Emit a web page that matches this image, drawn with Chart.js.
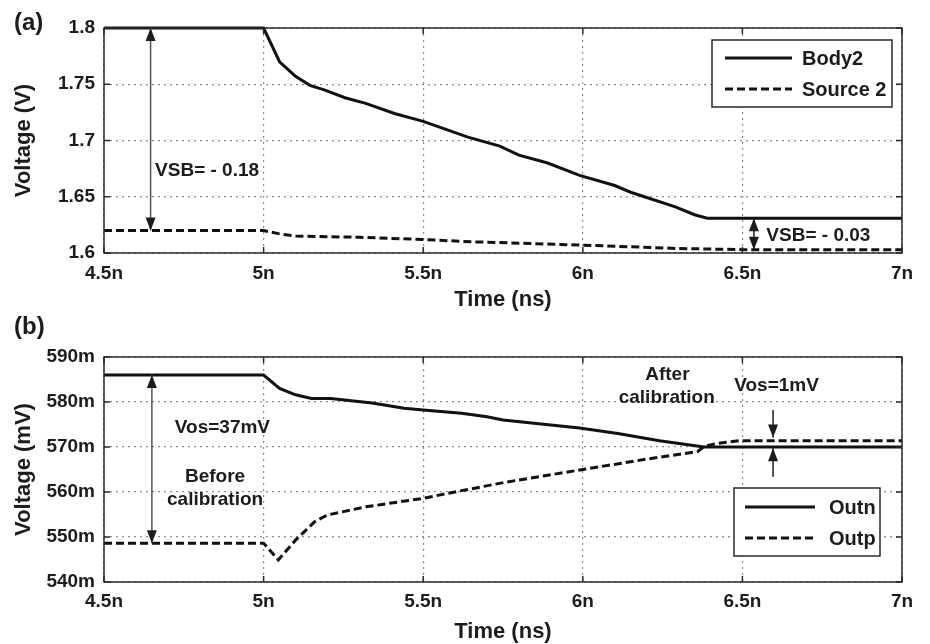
<!DOCTYPE html>
<html>
<head>
<meta charset="utf-8">
<script src="https://cdn.jsdelivr.net/npm/chart.js@4.4.1/dist/chart.umd.min.js"></script>
<style>
  html, body { margin: 0; padding: 0; background: #fff; overflow: hidden; }
  #wrap { position: relative; width: 930px; height: 644px; }
  canvas { position: absolute; left: 0; }
  #chartA { top: 0; }
  #chartB { top: 300px; }
</style>
</head>
<body>
<div id="wrap">
  <canvas id="chartA" width="930" height="320"></canvas>
  <canvas id="chartB" width="930" height="344"></canvas>
</div>
<script>
// (a) body / source voltage, time in ns, volts
const body2Time = [4.5, 5.0, 5.05, 5.1, 5.145, 5.19, 5.255, 5.32, 5.41, 5.5, 5.56, 5.64, 5.74, 5.8, 5.89, 5.99, 6.1, 6.15, 6.29, 6.35, 6.39, 7.0];
const body2Volt = [1.8, 1.8, 1.770, 1.757, 1.749, 1.745, 1.738, 1.733, 1.724, 1.717, 1.711, 1.703, 1.695, 1.687, 1.680, 1.669, 1.660, 1.654, 1.641, 1.634, 1.631, 1.631];
const source2Time = [4.5, 5.0, 5.05, 5.1, 5.3, 5.5, 5.65, 6.0, 6.3, 6.5, 7.0];
const source2Volt = [1.620, 1.620, 1.617, 1.615, 1.614, 1.612, 1.610, 1.607, 1.604, 1.603, 1.603];

// (b) comparator outputs, time in ns, mV
const outnTime = [4.5, 5.0, 5.05, 5.1, 5.15, 5.21, 5.34, 5.44, 5.5, 5.62, 5.7, 5.75, 5.9, 5.99, 6.11, 6.24, 6.38, 7.0];
const outnVolt = [586.0, 586.0, 583.0, 581.6, 580.8, 580.8, 579.8, 578.6, 578.2, 577.5, 576.7, 576.0, 574.9, 574.2, 573.0, 571.4, 570.0, 570.0];
const outpTime = [4.5, 5.0, 5.046, 5.1, 5.16, 5.2, 5.32, 5.5, 5.62, 5.76, 6.0, 6.2, 6.36, 6.38, 6.42, 6.49, 7.0];
const outpVolt = [548.6, 548.6, 544.9, 549.3, 553.4, 554.9, 556.7, 558.6, 560.3, 562.2, 565.0, 567.3, 569.0, 570.1, 570.8, 571.4, 571.4];

const timeTicks = [4.5, 5, 5.5, 6, 6.5, 7];
const voltTicksA = [1.6, 1.65, 1.7, 1.75, 1.8];
const voltTicksB = [540, 550, 560, 570, 580, 590];

const INK = '#1c1c1c';
const FAMILY = '"Liberation Sans", Arial, sans-serif';

function pts(xs, ys) {
  return xs.map((t, i) => ({ x: t, y: ys[i] }));
}

function arrowHead(ctx, x, y, dir) {
  ctx.beginPath();
  ctx.moveTo(x, y);
  ctx.lineTo(x - 5, y - dir * 13);
  ctx.lineTo(x + 5, y - dir * 13);
  ctx.closePath();
  ctx.fill();
}

const decor = {
  id: 'decor',
  afterDatasetsDraw(chart, args, opts) {
    const { ctx, chartArea: a, scales: { x, y } } = chart;
    ctx.save();
    ctx.setLineDash([]);

    // frame + inward ticks
    ctx.strokeStyle = '#2a2a2a';
    ctx.lineWidth = 1.5;
    ctx.strokeRect(a.left, a.top, a.right - a.left, a.bottom - a.top);
    ctx.beginPath();
    x.ticks.forEach((t) => {
      const px = x.getPixelForValue(t.value);
      ctx.moveTo(px, a.bottom); ctx.lineTo(px, a.bottom - 6);
      ctx.moveTo(px, a.top); ctx.lineTo(px, a.top + 6);
    });
    y.ticks.forEach((t) => {
      const py = y.getPixelForValue(t.value);
      ctx.moveTo(a.left, py); ctx.lineTo(a.left + 6, py);
      ctx.moveTo(a.right, py); ctx.lineTo(a.right - 6, py);
    });
    ctx.stroke();

    // arrows
    ctx.fillStyle = INK;
    (opts.arrows || []).forEach((ar) => {
      const px = x.getPixelForValue(ar.t);
      const y1 = y.getPixelForValue(ar.from);
      const y2 = y.getPixelForValue(ar.to);
      ctx.strokeStyle = ar.color || INK;
      ctx.lineWidth = 1.5;
      ctx.beginPath();
      ctx.moveTo(px, y1);
      ctx.lineTo(px, y2);
      ctx.stroke();
      arrowHead(ctx, px, y2, y2 > y1 ? 1 : -1);
      if (ar.both) arrowHead(ctx, px, y1, y1 > y2 ? 1 : -1);
    });

    // notes
    ctx.font = 'bold 19px ' + FAMILY;
    ctx.textBaseline = 'middle';
    (opts.notes || []).forEach((n) => {
      ctx.textAlign = n.align || 'left';
      ctx.fillText(n.text, x.getPixelForValue(n.t), y.getPixelForValue(n.v));
    });

    // legend
    const lg = opts.legend;
    if (lg) {
      ctx.fillStyle = '#fff';
      ctx.fillRect(lg.x, lg.y, lg.w, lg.h);
      ctx.strokeStyle = '#2a2a2a';
      ctx.lineWidth = 1.5;
      ctx.strokeRect(lg.x, lg.y, lg.w, lg.h);
      ctx.font = 'bold 20px ' + FAMILY;
      ctx.textAlign = 'left';
      chart.data.datasets.forEach((ds, i) => {
        const ry = lg.y + lg.rows[i];
        ctx.strokeStyle = ds.borderColor;
        ctx.lineWidth = ds.borderWidth;
        ctx.setLineDash(ds.borderDash || []);
        ctx.beginPath();
        ctx.moveTo(lg.x + lg.line[0], ry);
        ctx.lineTo(lg.x + lg.line[1], ry);
        ctx.stroke();
        ctx.setLineDash([]);
        ctx.fillStyle = INK;
        ctx.fillText(ds.label, lg.x + lg.text, ry + 1);
      });
    }

    // panel tag
    if (opts.tag) {
      ctx.font = 'bold 24px ' + FAMILY;
      ctx.textAlign = 'left';
      ctx.fillStyle = INK;
      ctx.fillText(opts.tag.text, opts.tag.x, opts.tag.y);
    }
    ctx.restore();
  },
};

function makeChart(id, cfg) {
  return new Chart(document.getElementById(id), {
    type: 'line',
    data: {
      datasets: cfg.series.map((s) => ({
        label: s.label,
        data: s.data,
        borderColor: '#111',
        borderWidth: 3,
        borderDash: s.dash || [],
        pointRadius: 0,
        tension: 0,
        clip: 4,
      })),
    },
    options: {
      responsive: false,
      animation: false,
      layout: { padding: { left: 0, top: cfg.top, right: 28, bottom: 0 } },
      plugins: {
        legend: { display: false },
        tooltip: { enabled: false },
        decor: cfg.decor,
      },
      scales: {
        x: {
          type: 'linear',
          min: 4.5,
          max: 7,
          afterBuildTicks: (s) => { s.ticks = timeTicks.map((v) => ({ value: v })); },
          afterFit: (s) => { s.height = cfg.xHeight; },
          ticks: {
            color: INK,
            padding: cfg.xPad,
            maxRotation: 0,
            font: { family: FAMILY, size: 19, weight: 'bold' },
            callback: (v) => `${+v.toFixed(1)}n`,
          },
          grid: { color: '#8c8c8c', lineWidth: 1.2, drawTicks: false },
          border: { display: false, dash: [2, 4] },
          title: {
            display: true,
            text: 'Time (ns)',
            color: INK,
            font: { family: FAMILY, size: 22, weight: 'bold', lineHeight: 1 },
            padding: { top: 0, bottom: cfg.titlePad },
          },
        },
        y: {
          min: cfg.yMin,
          max: cfg.yMax,
          afterBuildTicks: (s) => { s.ticks = cfg.yTicks.map((v) => ({ value: v })); },
          afterFit: (s) => { s.width = 104; },
          ticks: {
            color: INK,
            padding: 9,
            font: { family: FAMILY, size: 19, weight: 'bold' },
            callback: cfg.yLabel,
          },
          grid: { color: '#8c8c8c', lineWidth: 1.2, drawTicks: false },
          border: { display: false, dash: [2, 4] },
          title: {
            display: true,
            text: cfg.yTitle,
            color: INK,
            font: { family: FAMILY, size: 22, weight: 'bold', lineHeight: 1 },
            padding: { top: 13, bottom: 0 },
          },
        },
      },
    },
    plugins: [decor],
  });
}

makeChart('chartA', {
  top: 28,
  xHeight: 67,
  xPad: 9,
  titlePad: 9,
  yMin: 1.6,
  yMax: 1.8,
  yTicks: voltTicksA,
  yLabel: (v) => `${+v.toFixed(2)}`,
  yTitle: 'Voltage (V)',
  series: [
    { label: 'Body2', data: pts(body2Time, body2Volt) },
    { label: 'Source 2', data: pts(source2Time, source2Volt), dash: [8, 4] },
  ],
  decor: {
    tag: { text: '(a)', x: 14, y: 23 },
    arrows: [
      { t: 4.646, from: 1.8, to: 1.620, both: true, color: '#555' },
      { t: 6.536, from: 1.631, to: 1.603, both: true },
    ],
    notes: [
      { text: 'VSB= - 0.18', t: 4.66, v: 1.673 },
      { text: 'VSB= - 0.03', t: 6.575, v: 1.615 },
    ],
    legend: { x: 712, y: 40, w: 180, h: 67, rows: [18, 49], line: [13, 80], text: 90 },
  },
});

makeChart('chartB', {
  top: 57,
  xHeight: 62,
  xPad: 8,
  titlePad: 1,
  yMin: 540,
  yMax: 590,
  yTicks: voltTicksB,
  yLabel: (v) => `${v}m`,
  yTitle: 'Voltage (mV)',
  series: [
    { label: 'Outn', data: pts(outnTime, outnVolt) },
    { label: 'Outp', data: pts(outpTime, outpVolt), dash: [8, 4] },
  ],
  decor: {
    tag: { text: '(b)', x: 14, y: 27 },
    arrows: [
      { t: 4.65, from: 586.0, to: 548.6, both: true, color: '#555' },
      { t: 6.596, from: 578.2, to: 572.1 },
      { t: 6.596, from: 563.4, to: 569.7 },
    ],
    notes: [
      { text: 'Vos=37mV', t: 4.871, v: 574.2, align: 'center' },
      { text: 'Before', t: 4.848, v: 563.3, align: 'center' },
      { text: 'calibration', t: 4.848, v: 558.2, align: 'center' },
      { text: 'After', t: 6.265, v: 586.0, align: 'center' },
      { text: 'calibration', t: 6.263, v: 581.0, align: 'center' },
      { text: 'Vos=1mV', t: 6.607, v: 583.6, align: 'center' },
    ],
    legend: { x: 734, y: 188, w: 146, h: 68, rows: [19, 50], line: [11, 81], text: 95 },
  },
});
</script>
</body>
</html>
